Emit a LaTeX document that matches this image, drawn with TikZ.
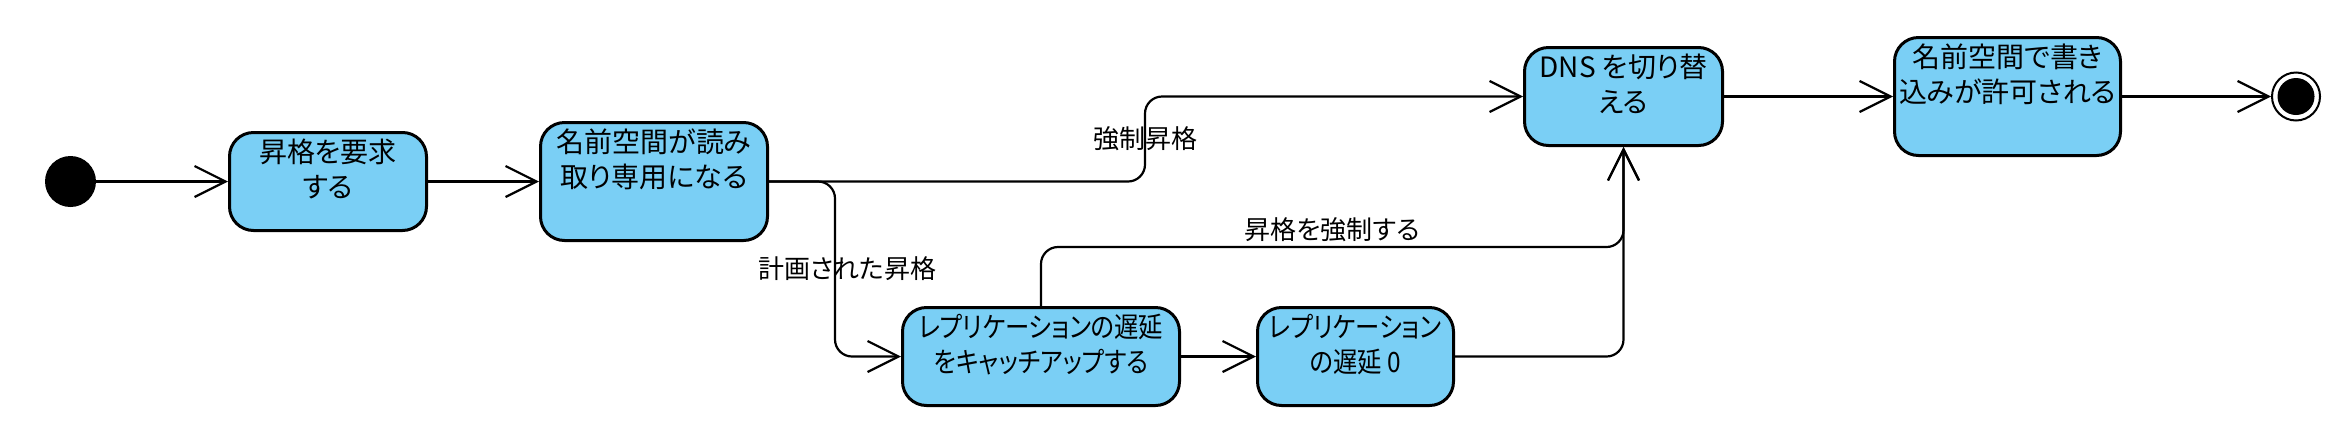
\documentclass[tikz,border=0pt]{standalone}
\usepackage{fontspec}
\setmainfont{Noto Sans CJK JP}[RawFeature=+palt]
\newfontfamily\narrowjp{Noto Sans CJK JP}[RawFeature=+palt, FakeStretch=0.87]
\usetikzlibrary{arrows.meta}
\definecolor{statefill}{RGB}{122,207,245}
\begin{document}
\begin{tikzpicture}[x=1pt,y=-1pt,
  state/.style={draw, line width=3pt, fill=statefill, rounded corners=24pt, inner sep=0pt},
  txt/.style={anchor=north, yshift=-8pt, align=center, inner sep=0pt, font=\fontsize{28}{35}\selectfont},
  ntxt/.style={txt, font=\narrowjp\fontsize{28}{35}\selectfont},
  lbl/.style={inner sep=2pt, font=\fontsize{26}{30}\selectfont},
  conn/.style={line width=2.2pt, rounded corners=17pt, -{Straight Barb[length=31pt,width=31pt]}}]
\useasboundingbox[fill=white] (0,0) rectangle (2351,424);
% initial and final states
\node[circle, fill=black, minimum size=51pt, inner sep=0pt] (start) at (70.5,181.5) {};
\node[circle, draw, line width=2pt, minimum size=48pt, inner sep=0pt] (end) at (2296,96.5) {};
\node[circle, fill=black, minimum size=37pt, inner sep=0pt] (endin) at (end.center) {};
% states
\node[state, minimum width=197pt, minimum height=98pt, label={[txt]north:昇格を要求\\する}] (A) at (328,181.5) {};
\node[state, minimum width=227pt, minimum height=118pt, label={[txt]north:名前空間が読み\\取り専用になる}] (B) at (654,181.5) {};
\node[state, minimum width=277pt, minimum height=98pt, label={[ntxt]north:レプリケーションの遅延\\をキャッチアップする}] (C) at (1041,356.5) {};
\node[state, minimum width=196pt, minimum height=98pt, label={[ntxt]north:レプリケーション\\の遅延 0}] (D) at (1355.5,356.5) {};
\node[state, minimum width=198pt, minimum height=98pt, label={[txt]north:DNS を切り替\\える}] (DNS) at (1623.5,96.5) {};
\node[state, minimum width=226pt, minimum height=118pt, label={[txt]north:名前空間で書き\\込みが許可される}] (E) at (2007.5,96.5) {};
% connectors
\draw[conn] (start) -- (A);
\draw[conn] (A) -- (B);
\draw[conn] (B.east) -- ([xshift=376pt]B.east) |- node[pos=0.25, lbl]{強制昇格} (DNS.west);
\draw[conn] (B.east) -- ([xshift=66pt]B.east) |- node[pos=0.25, lbl, xshift=12pt]{計画された昇格} (C.west);
\draw[conn] (C) -- (D);
\draw[conn] (C.north) -- ++(0,-59) -| node[pos=0.25, lbl, above, yshift=2pt]{昇格を強制する} (DNS.south);
\draw[conn] (D.east) -| (DNS.south);
\draw[conn] (DNS) -- (E);
\draw[conn] (E) -- (end);
\end{tikzpicture}
\end{document}
